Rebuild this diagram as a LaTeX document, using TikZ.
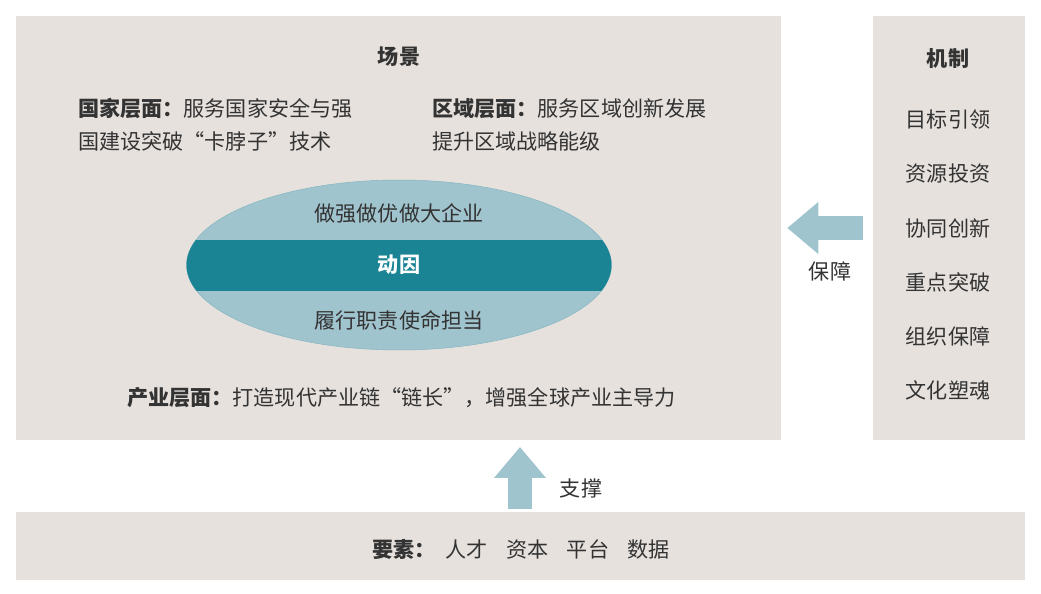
\documentclass[tikz,border=0pt]{standalone}
\usepackage{fontspec}
\setmainfont{Noto Sans CJK SC}
\usetikzlibrary{shapes.geometric, arrows.meta, positioning}

\definecolor{panelgray}{RGB}{230,225,221}
\definecolor{lightteal}{RGB}{160,196,206}
\definecolor{darkteal}{RGB}{26,132,148}
\definecolor{inkgray}{RGB}{51,51,51}

\begin{document}
\begin{tikzpicture}[
    x=0.02cm, y=-0.02cm,
    every node/.style={text=inkgray, font=\fontsize{12}{18.7}\selectfont, inner sep=0pt},
    panel/.style={rectangle, fill=panelgray, draw=none},
    txt/.style={align=left, anchor=west},
    head/.style={font=\fontsize{12}{18.7}\selectfont\bfseries},
    bigarrow/.style={line width=0.48cm, draw=lightteal, -{Triangle[length=0.62cm, width=1.0cm]}}
  ]
  \useasboundingbox (0,0) rectangle (1041,594);

  % panels
  \node[panel, minimum width=15.3cm, minimum height=8.48cm] (scene) at (398.5,228) {};
  \node[panel, minimum width=3.04cm, minimum height=8.48cm] (mech) at (949,228) {};
  \node[panel, minimum width=20.18cm, minimum height=1.36cm] (factor) at (520.5,546) {};

  % scene
  \node[head] (scenetitle) at (399,57) {场景};
  \node[txt] (national) at (78,124.5) {\textbf{国家层面：}服务国家安全与强\\国建设突破“卡脖子”技术};
  \node[txt] (regional) at (432,124.5) {\textbf{区域层面：}服务区域创新发展\\提升区域战略能级};

  \node[ellipse, minimum width=8.5cm, minimum height=3.4cm, fill=lightteal,
        draw=lightteal!80!darkteal, line width=0.3pt] (driver) at (399,265) {};
  \begin{scope}
    \clip (399,265) ellipse [x radius=212.5, y radius=85];
    \fill[darkteal] (180,240) rectangle (620,291);
  \end{scope}
  \node (upper) at (399,213) {做强做优做大企业};
  \node[text=white, font=\fontsize{12}{18.7}\selectfont\bfseries] (motive) at (399,265) {动因};
  \node (lower) at (399,320) {履行职责使命担当};

  \node[txt] (industry) at (127,398) {\textbf{产业层面：}打造现代产业链“链长”，增强全球产业主导力};

  % mechanism
  \node[head] (mechtitle) at (948,58) {机制};
  \foreach \item [count=\i] in {目标引领, 资源投资, 协同创新, 重点突破, 组织保障, 文化塑魂}
    \node (mech\i) at (948,{120+(\i-1)*54}) {\item};

  % factors
  \node[txt] (factors) at (372,550) {\textbf{要素：}\hspace{0.2cm}人才\hspace{0.37cm}资本\hspace{0.37cm}平台\hspace{0.37cm}数据};

  % arrows
  \coordinate (guardstart) at ([xshift=-0.2cm]mech.west);
  \coordinate (guardend) at ([xshift=0.12cm]scene.east);
  \draw[bigarrow] (guardstart) -- (guardend);
  \node (guard) at (830,271) {保障};

  \coordinate (propstart) at (520,509);
  \coordinate (propend) at (520,447);
  \draw[bigarrow] (propstart) -- (propend);
  \node (prop) at (581,488) {支撑};
\end{tikzpicture}
\end{document}
